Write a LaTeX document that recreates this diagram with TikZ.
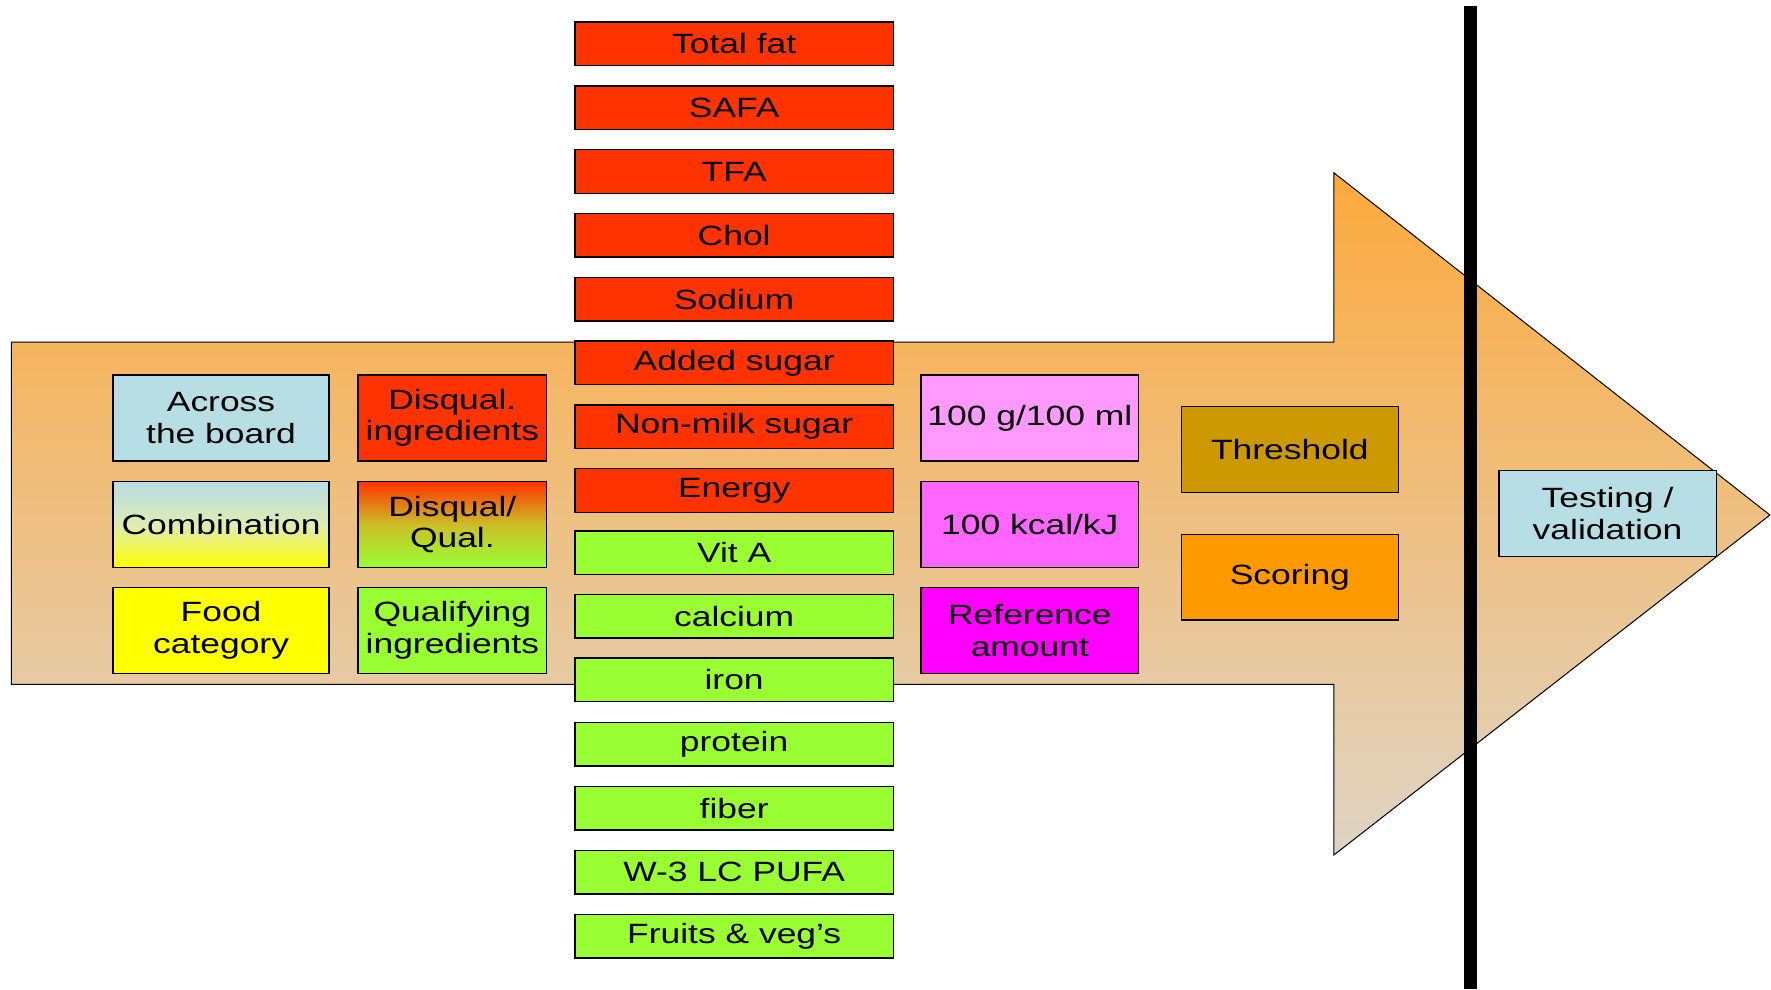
\documentclass[tikz,border=0pt]{standalone}
\usepackage{fontspec}
\setmainfont{Liberation Sans}[FakeStretch=1.27]
\definecolor{cred}{RGB}{255,51,0}
\definecolor{cgreen}{RGB}{153,255,51}
\definecolor{cblue}{RGB}{183,222,228}
\definecolor{cyellow}{RGB}{255,255,0}
\definecolor{cpink1}{RGB}{255,153,255}
\definecolor{cpink2}{RGB}{255,102,255}
\definecolor{cpink3}{RGB}{255,0,255}
\definecolor{cgold}{RGB}{204,153,0}
\definecolor{corange}{RGB}{255,153,0}
\definecolor{arrtop}{RGB}{253,170,60}
\definecolor{arrbot}{RGB}{223,213,197}
\tikzset{
  bx/.style={draw=black, line width=1.3pt, inner sep=0pt, align=center,
    font=\fontsize{24.7}{28}\selectfont},
  midbox/.style={bx, minimum width=282pt, minimum height=38.6pt},
  sqbox/.style={bx, minimum width=191.5pt, minimum height=76pt},
  narrowbox/.style={bx, minimum width=167pt, minimum height=76pt},
}
\begin{document}
\begin{tikzpicture}[x=1pt,y=-1pt]
\useasboundingbox (0,0) rectangle (1568,876);
% big arrow
\shadedraw[top color=arrtop, bottom color=arrbot, draw=black, line width=0.9pt]
  (10,303) -- (1181,303) -- (1181,153) -- (1567,456) -- (1181,757) -- (1181,606) -- (10,606) -- cycle;
% vertical bar
\fill[black] (1296.5,5.3) rectangle (1308,876);
% left columns
\node[sqbox, fill=cblue] (across) at (195.7,370) {Across\\the board};
\node[sqbox, top color=cblue, bottom color=cyellow, middle color={rgb,255:red,222;green,236;blue,178}] (comb) at (195.7,464.4) {Combination};
\node[sqbox, fill=cyellow] (food) at (195.7,558.2) {Food\\category};
\node[narrowbox, fill=cred] (disq) at (400.5,370) {Disqual.\\ingredients};
\node[narrowbox, top color=cred, bottom color=cgreen, middle color={rgb,255:red,204;green,190;blue,40}] (dq) at (400.5,464.4) {Disqual/\\Qual.};
\node[narrowbox, fill=cgreen] (qual) at (400.5,558.2) {Qualifying\\ingredients};
% middle column
\node[midbox, fill=cred] (m0) at (650,38.8) {Total fat};
\node[midbox, fill=cred] (m1) at (650,95.3) {SAFA};
\node[midbox, fill=cred] (m2) at (650,151.8) {TFA};
\node[midbox, fill=cred] (m3) at (650,208.3) {Chol};
\node[midbox, fill=cred] (m4) at (650,264.8) {Sodium};
\node[midbox, fill=cred] (m5) at (650,321.3) {Added sugar};
\node[midbox, fill=cred] (m6) at (650,377.8) {Non-milk sugar};
\node[midbox, fill=cred] (m7) at (650,434.3) {Energy};
\node[midbox, fill=cgreen] (m8) at (650,489.5) {Vit A};
\node[midbox, fill=cgreen] (m9) at (650,545.5) {calcium};
\node[midbox, fill=cgreen] (m10) at (650,602) {iron};
\node[midbox, fill=cgreen] (m11) at (650,659) {protein};
\node[midbox, fill=cgreen] (m12) at (650,715.6) {fiber};
\node[midbox, fill=cgreen] (m13) at (650,772.3) {W-3 LC PUFA};
\node[midbox, fill=cgreen] (m14) at (650,829) {Fruits \& veg’s};
% pink column
\node[sqbox, minimum width=192.5pt, fill=cpink1] (g100) at (911.8,370) {100 g/100 ml};
\node[sqbox, minimum width=192.5pt, fill=cpink2] (kcal) at (911.8,464.4) {100 kcal/kJ};
\node[sqbox, minimum width=192.5pt, fill=cpink3] (ref) at (911.8,558.2) {Reference\\amount};
% threshold / scoring
\node[sqbox, minimum width=192pt, fill=cgold] (thr) at (1142,397.9) {Threshold};
\node[sqbox, minimum width=192pt, fill=corange] (sco) at (1142,511) {Scoring};
% testing
\node[sqbox, minimum width=192.5pt, fill=cblue] (test) at (1423.3,454.6) {Testing /\\validation};
\end{tikzpicture}
\end{document}
